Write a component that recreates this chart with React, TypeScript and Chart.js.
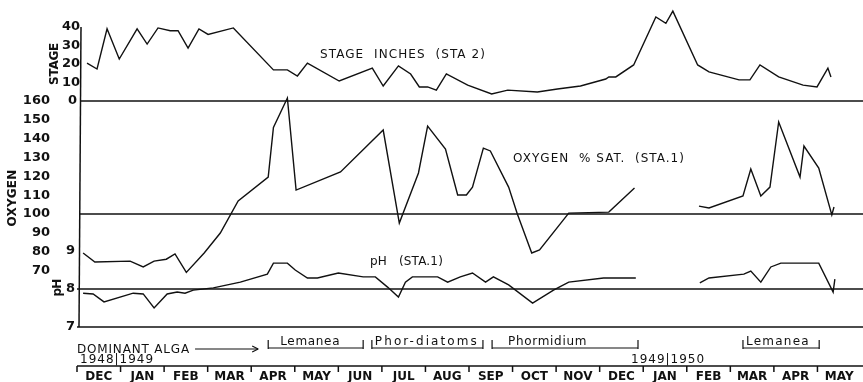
import React, { useEffect, useRef } from "react";
import { Chart, registerables } from "chart.js";

Chart.register(...registerables);

// ---- Data (x in months since 1 Dec 1948) ----
const stageMonths = [0.23, 0.46, 0.69, 0.97, 1.38, 1.61, 1.86, 2.14, 2.32, 2.55, 2.8, 3.01, 3.59, 4.51, 4.83, 5.06, 5.29, 6.02, 6.78, 7.03, 7.38, 7.66, 7.86, 8.05, 8.25, 8.48, 8.97, 9.52, 9.89, 10.57, 11.03, 11.56, 12.14, 12.21, 12.37, 12.78, 13.29, 13.52, 13.68, 14.25, 14.51, 15.2, 15.45, 15.68, 16.11, 16.67, 16.99, 17.24, 17.31];
const stageInches = [20.5, 17.3, 39, 22.7, 39, 30.8, 39.5, 38, 38, 28.6, 39, 36, 39.5, 16.8, 16.8, 13.5, 20.5, 10.8, 17.8, 8.1, 19, 14.6, 7.6, 7.6, 5.9, 14.6, 8.6, 3.8, 5.9, 4.9, 6.5, 8.1, 11.9, 13, 13, 19.5, 45.4, 42, 48.6, 19.5, 15.7, 11.4, 11.4, 19.5, 13, 8.6, 7.6, 17.8, 13];

const oxygenMonths = [0.14, 0.41, 1.22, 1.52, 1.77, 2.05, 2.25, 2.51, 2.92, 3.29, 3.7, 4.39, 4.51, 4.83, 5.03, 6.05, 7.03, 7.4, 7.84, 8.05, 8.46, 8.74, 8.94, 9.08, 9.33, 9.49, 9.91, 10.11, 10.44, 10.62, 11.29, 12.21, 12.8, 13.5, 14.28, 14.51, 15.29, 15.47, 15.7, 15.91, 16.11, 16.6, 16.69, 17.03, 17.33, 17.38];
const oxygenSat = [79.3, 74.5, 75, 71.9, 75, 76, 78.8, 69, 79.3, 89.9, 106.9, 119.6, 146, 161.6, 112.7, 122.3, 144.6, 95.2, 121.8, 146.7, 134.5, 110.1, 110.1, 114.3, 135, 133.5, 114.3, 100, 79.3, 80.9, 100.5, 101, 113.8, null, 104.2, 103.2, 109.6, 123.9, 109.6, 114.3, 148.9, 119.6, 136.1, 124.4, 99.5, 103.7];

const phMonths = [0.14, 0.37, 0.62, 1.29, 1.52, 1.77, 2.07, 2.3, 2.48, 2.67, 3.13, 3.75, 4.37, 4.51, 4.83, 5.01, 5.29, 5.52, 6.0, 6.57, 6.85, 7.13, 7.38, 7.54, 7.7, 8.28, 8.51, 8.8, 9.08, 9.38, 9.56, 9.91, 10.46, 10.94, 11.29, 12.09, 12.83, 13.5, 14.3, 14.51, 15.31, 15.47, 15.7, 15.93, 16.16, 17.03, 17.36, 17.4];
const phValues = [7.89, 7.87, 7.66, 7.89, 7.87, 7.5, 7.87, 7.92, 7.89, 7.97, 8.03, 8.18, 8.39, 8.68, 8.68, 8.5, 8.29, 8.29, 8.42, 8.32, 8.32, 8.05, 7.79, 8.18, 8.32, 8.32, 8.18, 8.32, 8.42, 8.18, 8.32, 8.11, 7.63, 7.97, 8.18, 8.29, 8.29, null, 8.16, 8.29, 8.39, 8.47, 8.18, 8.58, 8.68, 8.68, 7.92, 8.26];

const monthLabels = ["DEC", "JAN", "FEB", "MAR", "APR", "MAY", "JUN", "JUL", "AUG", "SEP", "OCT", "NOV", "DEC", "JAN", "FEB", "MAR", "APR", "MAY"];
const stageTicks = [0, 10, 20, 30, 40];
const oxygenTicks = [70, 80, 90, 100, 110, 120, 130, 140, 150, 160];
const phTicks = [7, 8, 9];
const yearLabels = ["1948|1949", "1949|1950"];
const yearMonths = [0.07, 12.72];
const algaNames = ["Lemanea", "Phor-diatoms", "Phormidium", "Lemanea"];
const algaStart = [4.39, 6.77, 9.53, 15.29];
const algaEnd = [6.57, 9.32, 12.88, 17.04];

const INK = "#111111";
const FONT = "'DejaVu Sans', sans-serif";

function fitText(ctx: CanvasRenderingContext2D, text: string, x: number, y: number, w: number, font: string) {
  ctx.font = font;
  (ctx as any).letterSpacing = "0px";
  const m = ctx.measureText(text).width;
  const ls = (w - m) / text.length;
  (ctx as any).letterSpacing = ls + "px";
  ctx.textAlign = "left";
  ctx.fillText(text, x, y);
  (ctx as any).letterSpacing = "0px";
}

const decorPlugin = {
  id: "decor",
  afterDraw(chart: any) {
    const { ctx, chartArea: a, scales } = chart;
    const sx = scales.x, ys = scales.yStage, yo = scales.yOxy, yp = scales.yPh;
    const W = chart.width;
    ctx.save();
    ctx.strokeStyle = INK;
    ctx.fillStyle = INK;
    ctx.lineWidth = 1.5;
    const line = (x0: number, y0: number, x1: number, y1: number) => {
      ctx.beginPath();
      ctx.moveTo(x0, y0);
      ctx.lineTo(x1, y1);
      ctx.stroke();
    };
    // reference lines
    line(a.left + 4, ys.getPixelForValue(0), W, ys.getPixelForValue(0));
    line(a.left + 3, yo.getPixelForValue(100), W, yo.getPixelForValue(100));
    line(a.left, yp.getPixelForValue(8), W, yp.getPixelForValue(8));
    line(a.left, yp.getPixelForValue(7), W, yp.getPixelForValue(7));
    // vertical axis
    line(a.left + 4, ys.getPixelForValue(40), a.left + 2, yp.getPixelForValue(7));

    // tick labels
    ctx.textBaseline = "middle";
    ctx.font = "bold 13px " + FONT;
    ctx.textAlign = "right";
    stageTicks.forEach((t) => ctx.fillText(String(t), t === 0 ? 77 : 80, ys.getPixelForValue(t)));
    oxygenTicks.forEach((t) => ctx.fillText(String(t), 50, yo.getPixelForValue(t)));
    phTicks.forEach((t) => ctx.fillText(String(t), 75, yp.getPixelForValue(t)));

    // rotated axis titles
    const rot = (text: string, x: number, y: number, w: number) => {
      ctx.save();
      ctx.translate(x, y);
      ctx.rotate(-Math.PI / 2);
      ctx.textBaseline = "middle";
      fitText(ctx, text, -w / 2, 0, w, "bold 12px " + FONT);
      ctx.restore();
    };
    rot("STAGE", 55, 64, 42);
    rot("OXYGEN", 13, 198, 57);
    rot("pH", 58, 288, 17);

    // series labels
    ctx.textBaseline = "alphabetic";
    fitText(ctx, "STAGE  INCHES  (STA 2)", 320, 58, 166, "12px " + FONT);
    fitText(ctx, "OXYGEN  % SAT.  (STA.1)", 513, 162, 172, "12px " + FONT);
    fitText(ctx, "pH   (STA.1)", 370, 265, 73, "12px " + FONT);

    // dominant alga row
    fitText(ctx, "DOMINANT ALGA", 77, 353, 113, "12px " + FONT);
    ctx.lineWidth = 1.2;
    const ax0 = sx.getPixelForValue(2.71), ax1 = sx.getPixelForValue(4.16);
    line(ax0, 349, ax1, 349);
    line(ax1 - 6, 346, ax1, 349);
    line(ax1 - 6, 352, ax1, 349);
    algaNames.forEach((name, i) => {
      const x0 = sx.getPixelForValue(algaStart[i]);
      const x1 = sx.getPixelForValue(algaEnd[i]);
      line(x0, 340, x0, 349);
      line(x0, 348, x1, 348);
      line(x1, 340, x1, 349);
      const tx = i === 2 ? x0 + 16 : x0 + (i === 0 ? 12 : 3);
      const tw = i === 0 ? 60 : i === 1 ? 104 : i === 2 ? 79 : 64;
      fitText(ctx, name, tx, 345, tw, "12px " + FONT);
    });

    // years
    yearLabels.forEach((y, i) => {
      fitText(ctx, y, sx.getPixelForValue(yearMonths[i]), 363, 74, "12px " + FONT);
    });

    // month axis
    ctx.lineWidth = 1.5;
    line(a.left, 366, W, 366);
    ctx.font = "bold 12px " + FONT;
    ctx.textAlign = "center";
    monthLabels.forEach((m, i) => {
      const x0 = sx.getPixelForValue(i);
      line(x0, 366, x0, 372);
      ctx.fillText(m, sx.getPixelForValue(i + 0.5), 380);
    });
    ctx.restore();
  },
};

export default function App() {
  const ref = useRef<HTMLCanvasElement | null>(null);
  useEffect(() => {
    document.body.style.margin = "0";
    const canvas = ref.current;
    if (!canvas) return;
    const mk = (xs: number[], ys: (number | null)[]) => xs.map((x, i) => ({ x, y: ys[i] }));
    const lineStyle = {
      borderColor: INK,
      borderWidth: 1.4,
      pointRadius: 0,
      tension: 0,
      spanGaps: false,
      fill: false,
    };
    const chart = new Chart(canvas, {
      type: "line",
      data: {
        datasets: [
          { label: "Stage inches (Sta 2)", data: mk(stageMonths, stageInches), yAxisID: "yStage", ...lineStyle },
          { label: "Oxygen % sat. (Sta 1)", data: mk(oxygenMonths, oxygenSat), yAxisID: "yOxy", ...lineStyle },
          { label: "pH (Sta 1)", data: mk(phMonths, phValues), yAxisID: "yPh", ...lineStyle },
        ],
      },
      options: {
        responsive: false,
        animation: false,
        devicePixelRatio: 1,
        layout: { padding: { left: 77, right: 2, top: 8, bottom: 55 } },
        plugins: { legend: { display: false }, tooltip: { enabled: false } },
        scales: {
          x: { type: "linear", min: 0, max: 18, display: false },
          yStage: { type: "linear", min: -122.16, max: 50.27, display: false },
          yOxy: { type: "linear", min: 40, max: 209.4, display: false },
          yPh: { type: "linear", min: 7, max: 15.395, display: false },
        },
      },
      plugins: [decorPlugin],
    });
    return () => chart.destroy();
  }, []);
  return <canvas ref={ref} width={863} height={382} style={{ display: "block" }} />;
}
